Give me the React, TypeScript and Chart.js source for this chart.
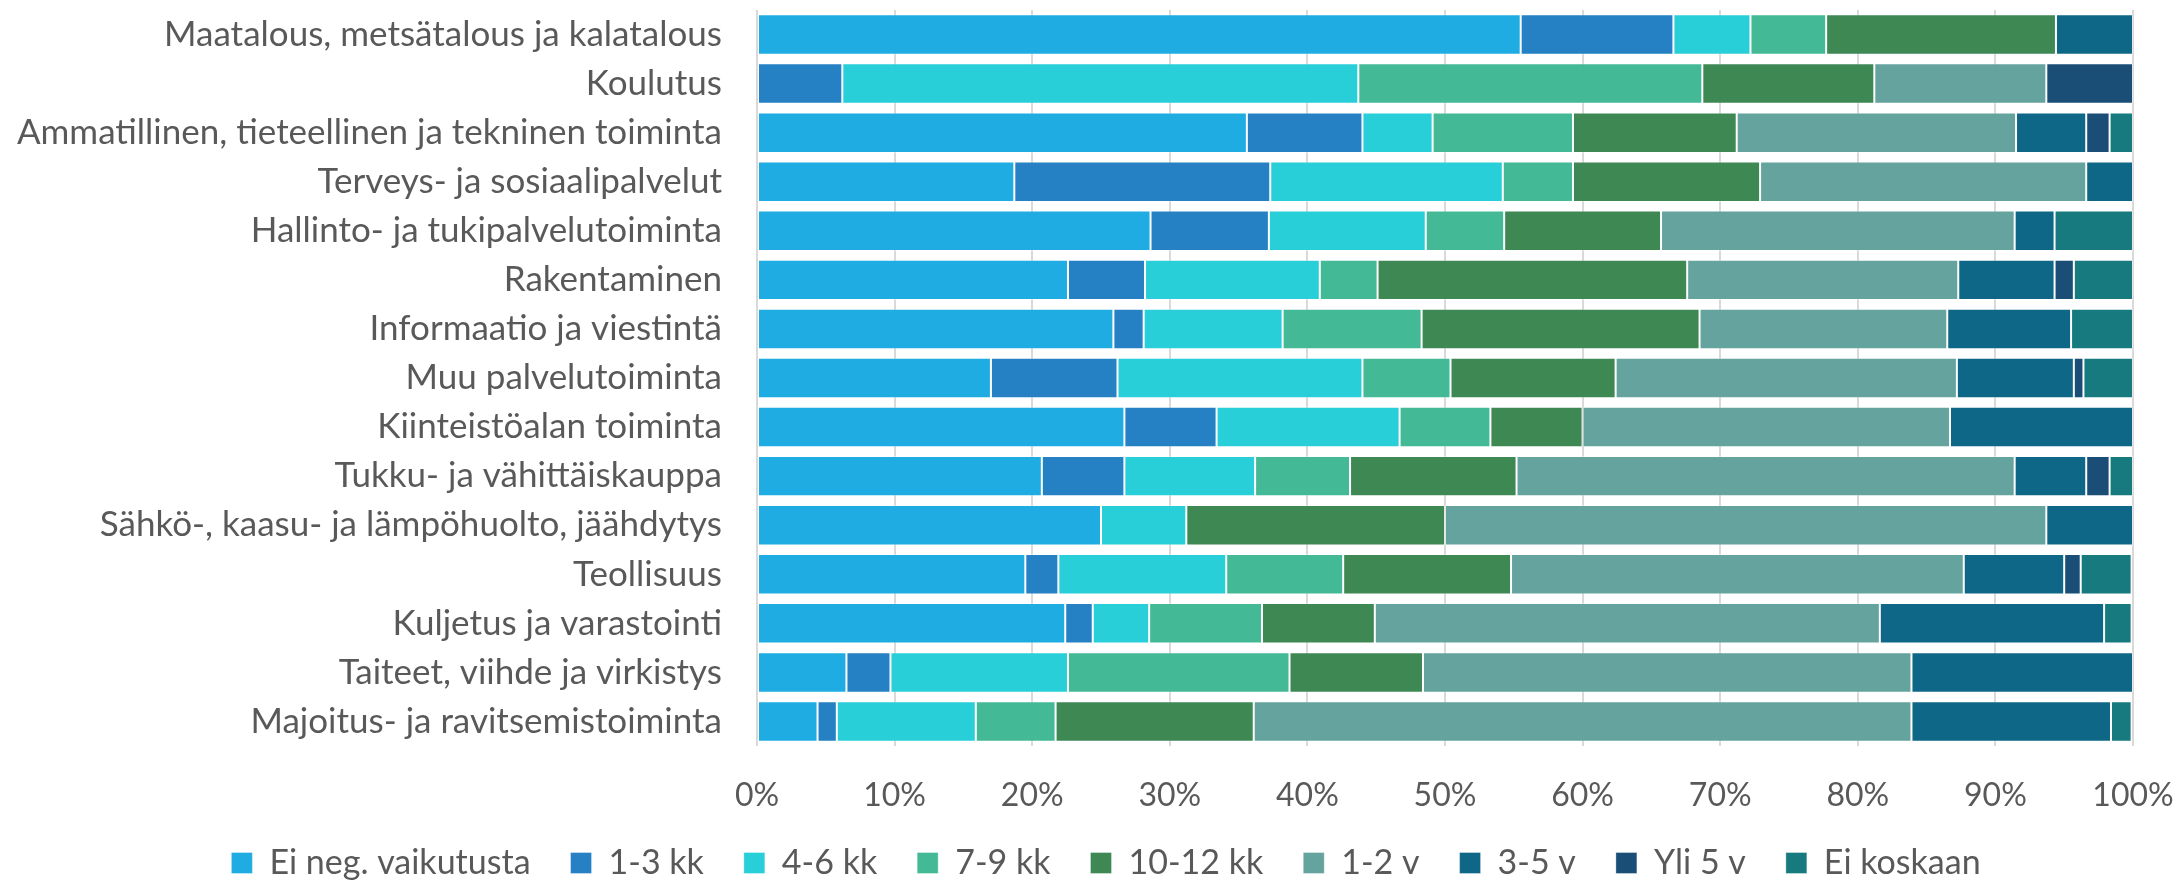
import React, { useEffect, useRef } from "react";
import { Chart, registerables } from "chart.js";

Chart.register(...registerables);

const categories = [
  "Maatalous, metsätalous ja kalatalous",
  "Koulutus",
  "Ammatillinen, tieteellinen ja tekninen toiminta",
  "Terveys- ja sosiaalipalvelut",
  "Hallinto- ja tukipalvelutoiminta",
  "Rakentaminen",
  "Informaatio ja viestintä",
  "Muu palvelutoiminta",
  "Kiinteistöalan toiminta",
  "Tukku- ja vähittäiskauppa",
  "Sähkö-, kaasu- ja lämpöhuolto, jäähdytys",
  "Teollisuus",
  "Kuljetus ja varastointi",
  "Taiteet, viihde ja virkistys",
  "Majoitus- ja ravitsemistoiminta",
];

const eiNeg = [55.5, 0, 35.6, 18.7, 28.6, 22.6, 25.9, 17.0, 26.7, 20.7, 25.0, 19.5, 22.4, 6.5, 4.4];
const kk1to3 = [11.1, 6.2, 8.4, 18.6, 8.6, 5.6, 2.2, 9.2, 6.7, 6.0, 0, 2.4, 2.0, 3.2, 1.4];
const kk4to6 = [5.6, 37.5, 5.1, 16.9, 11.4, 12.7, 10.1, 17.8, 13.3, 9.5, 6.2, 12.2, 4.1, 12.9, 10.1];
const kk7to9 = [5.5, 25.0, 10.2, 5.1, 5.7, 4.2, 10.1, 6.4, 6.6, 6.9, 0, 8.5, 8.2, 16.1, 5.8];
const kk10to12 = [16.7, 12.5, 11.9, 13.6, 11.4, 22.5, 20.2, 12.0, 6.7, 12.1, 18.8, 12.2, 8.2, 9.7, 14.4];
const v1to2 = [0, 12.5, 20.3, 23.7, 25.7, 19.7, 18.0, 24.8, 26.7, 36.2, 43.7, 32.9, 36.7, 35.5, 47.8];
const v3to5 = [5.6, 0, 5.1, 3.4, 2.9, 7.0, 9.0, 8.5, 13.3, 5.2, 6.3, 7.3, 16.3, 16.1, 14.5];
const yli5 = [0, 6.3, 1.7, 0, 0, 1.4, 0, 0.7, 0, 1.7, 0, 1.2, 0, 0, 0];
const eiKoskaan = [0, 0, 1.7, 0, 5.7, 4.3, 4.5, 3.6, 0, 1.7, 0, 3.7, 2.0, 0, 1.5];

const seriesLabels = [
  "Ei neg. vaikutusta",
  "1-3 kk",
  "4-6 kk",
  "7-9 kk",
  "10-12 kk",
  "1-2 v",
  "3-5 v",
  "Yli 5 v",
  "Ei koskaan",
];
const seriesColors = [
  "#1eace2",
  "#2581c4",
  "#28ced8",
  "#43b996",
  "#3e8854",
  "#64a39e",
  "#0f6787",
  "#1a4e76",
  "#177a7e",
];
const seriesValues = [eiNeg, kk1to3, kk4to6, kk7to9, kk10to12, v1to2, v3to5, yli5, eiKoskaan];

const xTicks = [0, 10, 20, 30, 40, 50, 60, 70, 80, 90, 100];

const FONT = "Lato, 'Open Sans', sans-serif";
const TEXT = "#595959";

const legendShift = {
  id: "legendShift",
  afterLayout(chart: any) {
    if (chart.legend) {
      chart.legend.left += 34;
    }
  },
};

export default function App() {
  const ref = useRef<HTMLCanvasElement | null>(null);

  useEffect(() => {
    if (!ref.current) return;
    const chart = new Chart(ref.current, {
      type: "bar",
      data: {
        labels: categories,
        datasets: seriesLabels.map((label, i) => ({
          label,
          data: seriesValues[i],
          backgroundColor: seriesColors[i],
          borderColor: "rgba(255,255,255,0.35)",
          borderWidth: 1,
          borderSkipped: false,
          categoryPercentage: 1,
          barPercentage: 0.825,
        })),
      },
      plugins: [legendShift],
      options: {
        indexAxis: "y",
        responsive: false,
        animation: false,
        devicePixelRatio: 1,
        layout: { padding: { left: 0, right: 0, top: 10, bottom: -10 } },
        plugins: {
          tooltip: { enabled: false },
          legend: {
            position: "bottom",
            labels: {
              boxWidth: 21,
              boxHeight: 21,
              padding: 40,
              color: TEXT,
              font: { family: FONT, size: 34 },
            },
          },
        },
        scales: {
          x: {
            stacked: true,
            min: 0,
            max: 100,
            afterBuildTicks: (scale: any) => {
              scale.ticks = xTicks.map((v) => ({ value: v }));
            },
            afterFit: (scale: any) => {
              scale.height = 60;
              scale.paddingLeft = 0;
              scale.paddingRight = 45;
            },
            grid: { color: "#d9d9d9", lineWidth: 2, drawTicks: false },
            border: { display: false },
            ticks: {
              padding: 30,
              color: TEXT,
              font: { family: FONT, size: 32 },
              callback: (v: any) => v + "%",
            },
          },
          y: {
            stacked: true,
            afterFit: (scale: any) => {
              scale.width = 757;
              scale.paddingTop = 0;
              scale.paddingBottom = 0;
            },
            grid: { display: false, drawTicks: false },
            border: { display: false },
            ticks: {
              padding: 35,
              color: TEXT,
              font: { family: FONT, size: 35 },
            },
          },
        },
      },
    });
    return () => chart.destroy();
  }, []);

  return (
    <div style={{ position: "fixed", left: 0, top: 0, width: 2178, height: 880, background: "#fff" }}>
      <canvas ref={ref} width={2178} height={880} style={{ width: 2178, height: 880, display: "block" }} />
    </div>
  );
}
